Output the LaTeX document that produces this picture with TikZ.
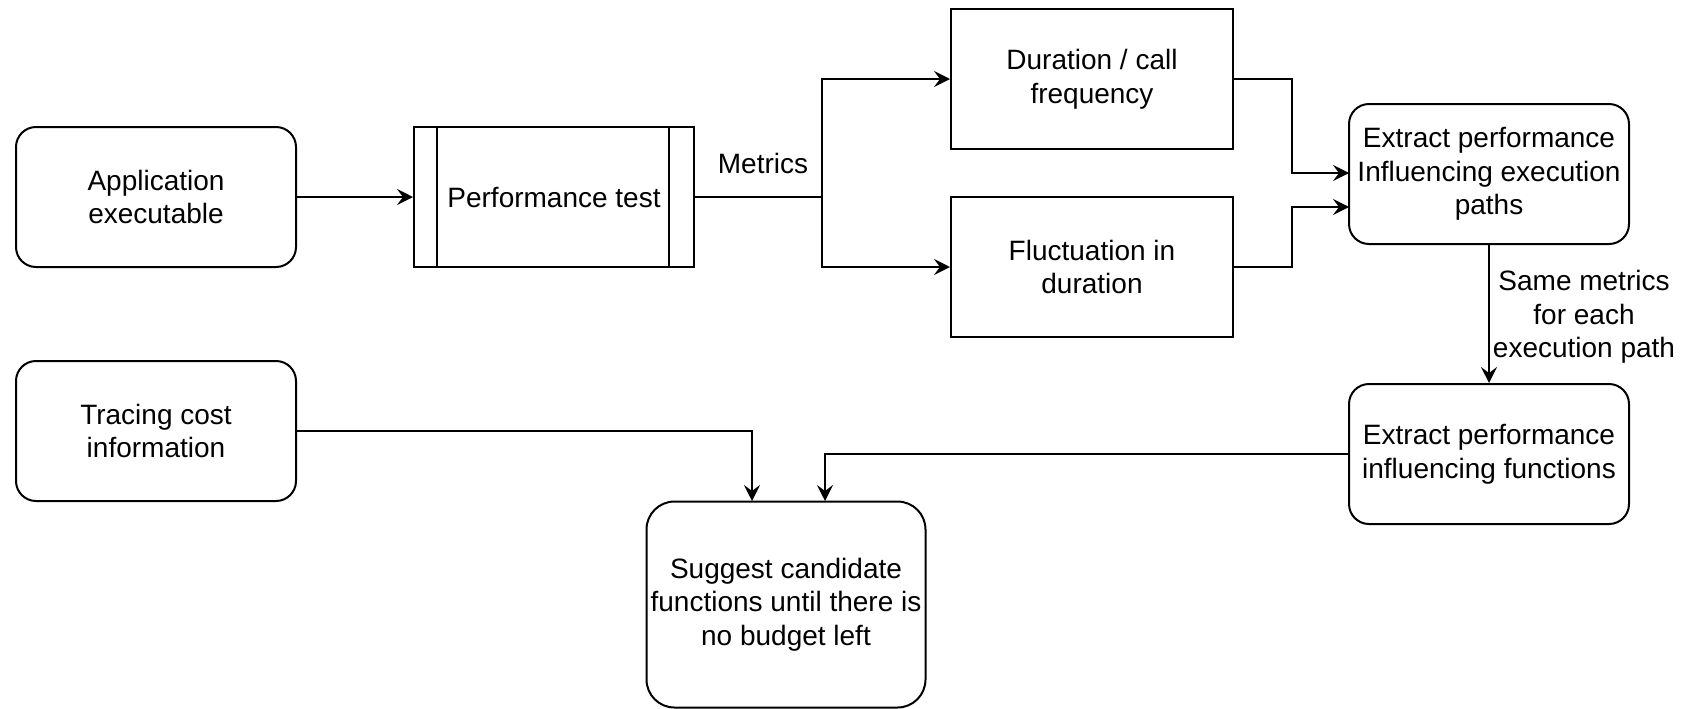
\documentclass[tikz,border=0pt]{standalone}
\usepackage{fontspec}
\setmainfont{Liberation Sans}
\usetikzlibrary{arrows.meta}
\begin{document}
\begin{tikzpicture}[x=0.5pt,y=-0.5pt,
  every node/.style={font=\fontsize{14pt}{16.8pt}\selectfont, align=center, inner sep=0pt},
  rbox/.style={draw, line width=1pt, rounded corners=10pt, minimum width=140pt, minimum height=70pt},
  sbox/.style={draw, line width=1pt, minimum width=141pt, minimum height=70pt},
  conn/.style={line width=1pt},
  arr/.style={conn, -{Stealth[length=8pt,width=8pt,inset=3pt]}}]
\useasboundingbox (0,0) rectangle (1685,708);
\node[rbox] (app) at (156,197) {Application\\executable};
\node[sbox, minimum width=140pt] (perf) at (554,197) {Performance test};
\draw[line width=1pt] ([xshift=12pt]perf.north west) -- ([xshift=12pt]perf.south west);
\draw[line width=1pt] ([xshift=-13pt]perf.north east) -- ([xshift=-13pt]perf.south east);
\node[sbox] (dur) at (1092,79) {Duration / call\\frequency};
\node[sbox] (fluc) at (1092,267) {Fluctuation in\\duration};
\node[rbox] (paths) at (1489,174) {Extract performance\\Influencing execution\\paths};
\node[rbox] (func) at (1489,454) {Extract performance\\influencing functions};
\node[rbox] (trace) at (156,431) {Tracing cost\\information};
\node[rbox, minimum width=139.5pt, minimum height=103pt, rounded corners=14pt] (sugg) at (786,604.5) {Suggest candidate\\functions until there is\\no budget left};
\node (metrics) at (763,163) {Metrics};
\node (same) at (1584,317) {Same metrics\\for each\\execution path};
\coordinate (split) at (822,197);
\coordinate (pin1) at (1349,173);
\coordinate (pin2) at (1349,207);
\coordinate (sin1) at (752,501);
\coordinate (sin2) at (825,501);
\draw[arr] (app.east) -- (perf.west);
\draw[conn] (perf.east) -- (split);
\draw[arr] (split) |- (dur.west);
\draw[arr] (split) |- (fluc.west);
\draw[arr] (dur.east) -- ++(58,0) |- (pin1);
\draw[arr] (fluc.east) -- ++(58,0) |- (pin2);
\draw[arr] (paths.south) -- (func.north);
\draw[arr] (func.west) -| (sin2);
\draw[arr] (trace.east) -| (sin1);
\end{tikzpicture}
\end{document}
